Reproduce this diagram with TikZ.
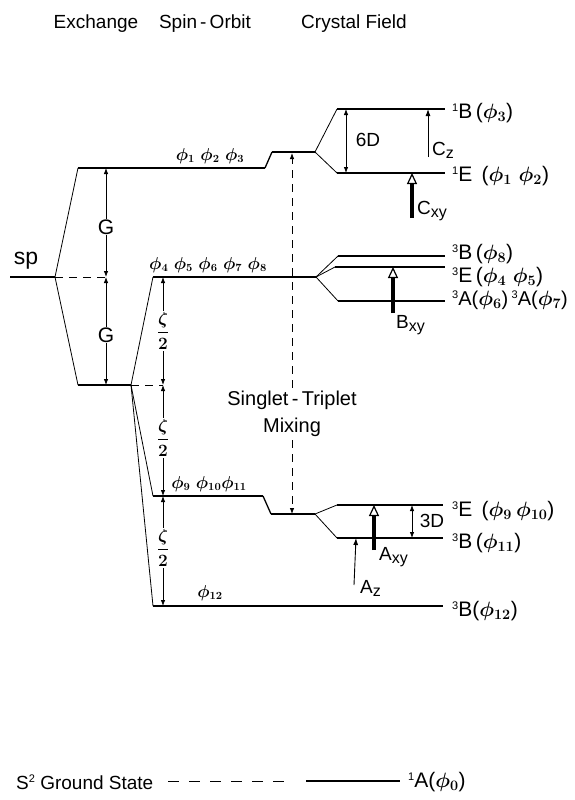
\documentclass[tikz,border=0pt]{standalone}
\usepackage{fontspec}
\setmainfont{Liberation Sans}
\usetikzlibrary{arrows.meta}
\newcommand\lsub[1]{\raisebox{-3pt}{\fontsize{16}{16}\selectfont #1}}
\newcommand\lsup[1]{\raisebox{6.5pt}{\fontsize{11}{11}\selectfont #1}}
\begin{document}
\begin{tikzpicture}[x=1pt,y=-1pt,
  lev/.style={line width=2.6pt},
  slope/.style={line width=1.3pt},
  link/.style={line width=0.8pt},
  dimarrow/.style={line width=0.8pt,{Latex[length=6pt,width=4.5pt]}-{Latex[length=6pt,width=4.5pt]}},
  thinarrow/.style={line width=0.9pt,-{Latex[length=7pt,width=5pt]}},
  fatarrow/.style={line width=4.5pt,-{Triangle[length=11pt,width=10pt,line width'=1.2pt,fill=white]}},
  dashline/.style={line width=0.8pt,dash pattern=on 8pt off 6pt},
  lbl/.style={font=\fontsize{19}{21}\selectfont, inner sep=1pt},
  rlbl/.style={font=\fontsize{21}{23}\selectfont\boldmath, inner sep=1pt, anchor=west},
  phil/.style={font=\fontsize{16}{18}\selectfont\boldmath, inner sep=1pt},
  zlbl/.style={font=\fontsize{18}{20}\selectfont\boldmath, fill=white, inner sep=1pt},
  bg/.style={fill=white}]
\useasboundingbox (0,0) rectangle (574,800);

% titles
\node[lbl] (tEx) at (96,24) {Exchange};
\node[lbl] (tSO) at (205,24) {Spin\,-\,Orbit};
\node[lbl] (tCF) at (354,24) {Crystal Field};

% coordinates
\coordinate (spL) at (10,277); \coordinate (spR) at (55,277);
\coordinate (exU1) at (78,168); \coordinate (exU2) at (265,168);
\coordinate (soU1) at (272,152); \coordinate (soU2) at (315,152);
\coordinate (cfB1) at (337,109); \coordinate (cfB2) at (445,109);
\coordinate (cfE1) at (337,173); \coordinate (cfE2) at (445,173);
\coordinate (exL1) at (78,385); \coordinate (exL2) at (131,385);
\coordinate (so2a) at (153,277); \coordinate (so2b) at (316,277);
\coordinate (t8a) at (338,256); \coordinate (t8b) at (445,256);
\coordinate (t45a) at (335,267); \coordinate (t45b) at (445,267);
\coordinate (t67a) at (338,301); \coordinate (t67b) at (445,301);
\coordinate (so3a) at (153,496); \coordinate (so3b) at (263,496);
\coordinate (so3c) at (271,514); \coordinate (so3d) at (315,514);
\coordinate (t910a) at (337,505); \coordinate (t910b) at (443,505);
\coordinate (t11a) at (337,538); \coordinate (t11b) at (443,538);
\coordinate (p12a) at (153,606); \coordinate (p12b) at (443,606);

% sp and exchange
\node[font=\fontsize{23}{25}\selectfont, inner sep=1pt] (sp) at (26,261) {sp};
\draw[lev] (spL) -- (spR);
\draw[link] (spR) -- (exU1);
\draw[link] (spR) -- (exL1);
\draw[lev] (exU1) -- (exU2);
\draw[slope] (exU2) -- (soU1);
\draw[lev] (soU1) -- (soU2);
\draw[lev] (exL1) -- (exL2);
\draw[link] (exL2) -- (so2a);
\draw[link] (exL2) -- (so3a);
\draw[link] (exL2) -- (p12a);

% spin-orbit levels
\draw[lev] (so2a) -- (so2b);
\draw[lev] (so3a) -- (so3b);
\draw[slope] (so3b) -- (so3c);
\draw[lev] (so3c) -- (so3d);
\draw[lev] (p12a) -- (p12b);

% crystal field
\draw[link] (soU2) -- (cfB1); \draw[lev] (cfB1) -- (cfB2);
\draw[link] (soU2) -- (cfE1); \draw[lev] (cfE1) -- (cfE2);
\draw[link] (so2b) -- (t8a); \draw[lev] (t8a) -- (t8b);
\draw[link] (so2b) -- (t45a); \draw[lev] (t45a) -- (t45b);
\draw[link] (so2b) -- (t67a); \draw[lev] (t67a) -- (t67b);
\draw[link] (so3d) -- (t910a); \draw[lev] (t910a) -- (t910b);
\draw[link] (so3d) -- (t11a); \draw[lev] (t11a) -- (t11b);

% phi labels
\node[phil] (ph123) at (210,156) {$\phi_1\;\phi_2\;\phi_3$};
\node[phil] (ph48) at (208,265) {$\phi_4\;\phi_5\;\phi_6\;\phi_7\;\phi_8$};
\node[phil] (ph911) at (209,484) {$\phi_9\;\phi_{10}\phi_{11}$};
\node[phil] (ph12) at (210,593) {$\phi_{12}$};

% G arrows
\coordinate (gTop) at (106,168); \coordinate (gMid) at (106,277); \coordinate (gBot) at (106,385);
\draw[dashline] (spR) -- (gMid);
\draw[dimarrow] (gTop) -- (gMid);
\draw[dimarrow] (gMid) -- (gBot);
\node[font=\fontsize{21}{23}\selectfont,bg,inner sep=1pt] (G1) at (106,227) {G};
\node[font=\fontsize{21}{23}\selectfont,bg,inner sep=1pt] (G2) at (106,335) {G};

% zeta/2 arrows
\coordinate (z1) at (163,277); \coordinate (z2) at (163,385);
\coordinate (z3) at (163,496); \coordinate (z4) at (163,606);
\draw[dashline] (exL2) -- (z2);
\draw[dimarrow] (z1) -- (z2);
\draw[dimarrow] (z2) -- (z3);
\draw[dimarrow] (z3) -- (z4);
\node[zlbl] (zl1) at (163,331) {$\displaystyle\frac{\zeta}{2}$};
\node[zlbl] (zl2) at (163,438) {$\displaystyle\frac{\zeta}{2}$};
\node[zlbl] (zl3) at (163,548) {$\displaystyle\frac{\zeta}{2}$};

% singlet-triplet mixing
\coordinate (stT) at (292,153); \coordinate (stB) at (292,514);
\node[font=\fontsize{20}{27}\selectfont, align=center, inner sep=3pt] (mix) at (292,414) {Singlet\,-\,Triplet\\Mixing};
\draw[dashline,-{Latex[length=6pt,width=4.5pt]}] (mix) -- (stT);
\draw[dashline,-{Latex[length=6pt,width=4.5pt]}] (mix) -- (stB);

% 6D, Cz, Cxy
\coordinate (d6a) at (346,109); \coordinate (d6b) at (346,173);
\draw[dimarrow] (d6a) -- (d6b);
\node[lbl] (l6D) at (368,140) {6D};
\coordinate (czA) at (428,157); \coordinate (czB) at (428,109);
\draw[thinarrow] (czA) -- (czB);
\node[lbl,anchor=west] (lCz) at (431,150) {C\lsub{z}};
\coordinate (cxA) at (412,218); \coordinate (cxB) at (412,173);
\draw[fatarrow] (cxA) -- (cxB);
\node[lbl,anchor=west] (lCxy) at (416,211) {C\lsub{xy}};

% Bxy
\coordinate (bxA) at (393,313); \coordinate (bxB) at (393,267);
\draw[fatarrow] (bxA) -- (bxB);
\node[lbl,anchor=west] (lBxy) at (395,325) {B\lsub{xy}};

% 3D, Axy, Az
\coordinate (d3a) at (412,505); \coordinate (d3b) at (412,538);
\draw[dimarrow] (d3a) -- (d3b);
\node[lbl] (l3D) at (432,521) {3D};
\coordinate (axA) at (374,550); \coordinate (axB) at (374,505);
\draw[fatarrow] (axA) -- (axB);
\node[lbl,anchor=west] (lAxy) at (378,557) {A\lsub{xy}};
\coordinate (azA) at (354,585); \coordinate (azB) at (356,538);
\draw[thinarrow] (azA) -- (azB);
\node[lbl,anchor=west] (lAz) at (359,588) {A\lsub{z}};

% right labels
\node[rlbl] (lB3) at (451,113) {\lsup{1}B\,($\phi_3$)};
\node[rlbl] (lE12) at (451,176) {\lsup{1}E\ \,($\phi_1\;\phi_2$)};
\node[rlbl] (lB8) at (451,254) {\lsup{3}B\,($\phi_8$)};
\node[rlbl] (lE45) at (451,277) {\lsup{3}E\,($\phi_4\;\phi_5$)};
\node[rlbl,font=\fontsize{20}{22}\selectfont\boldmath] (lA67) at (451,300) {\lsup{3}A($\phi_6$)\,\lsup{3}A($\phi_7$)};
\node[rlbl] (lE910) at (451,511) {\lsup{3}E\ \,($\phi_9\,\phi_{10}$)};
\node[rlbl] (lB11) at (451,543) {\lsup{3}B\,($\phi_{11}$)};
\node[rlbl] (lB12) at (451,611) {\lsup{3}B($\phi_{12}$)};

% ground state
\node[lbl,anchor=west] (gs) at (15,782) {S\lsup{2} Ground State};
\coordinate (gd1) at (168,781); \coordinate (gd2) at (292,781);
\coordinate (gl1) at (306,781); \coordinate (gl2) at (400,781);
\draw[line width=0.9pt,dash pattern=on 11pt off 10pt] (gd1) -- (gd2);
\draw[line width=1.8pt] (gl1) -- (gl2);
\node[rlbl] (lA0) at (407,782) {\lsup{1}A($\phi_0$)};
\end{tikzpicture}
\end{document}
